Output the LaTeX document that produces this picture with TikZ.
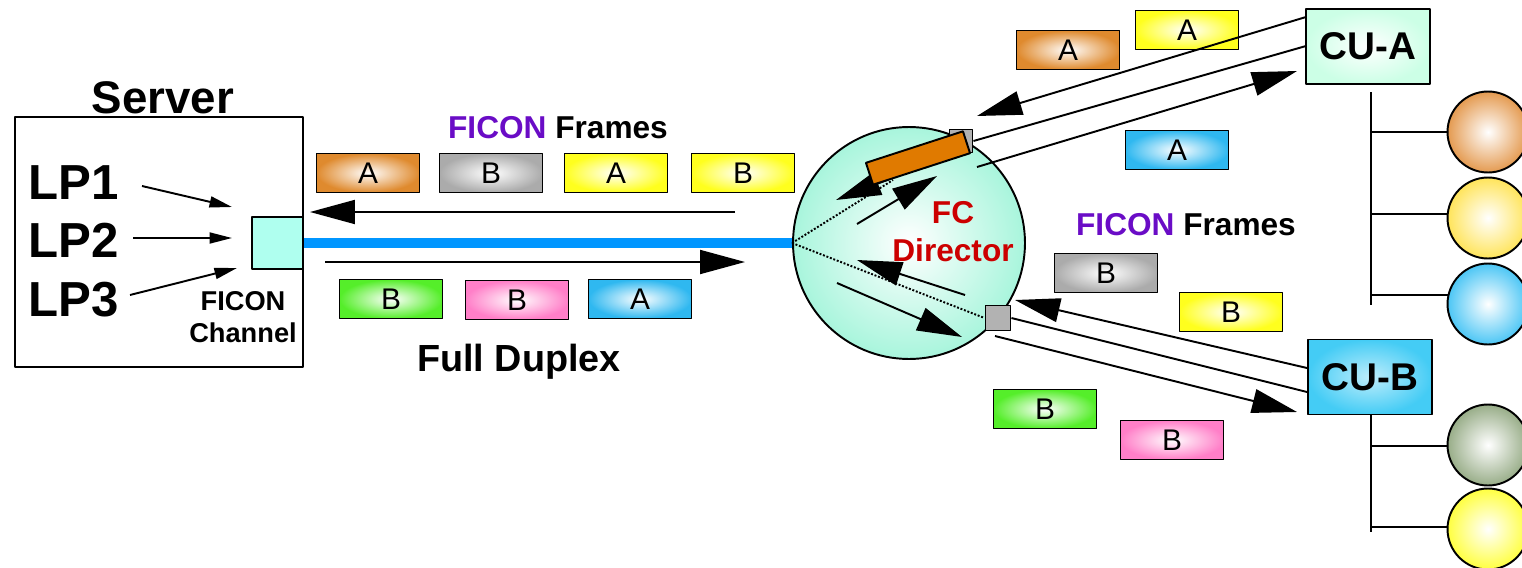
\documentclass[tikz,border=0pt]{standalone}
\usepackage{fontspec}
\setmainfont{Liberation Sans}
\usetikzlibrary{arrows.meta,positioning}
\definecolor{ficonpurple}{HTML}{6A0CC6}
\definecolor{fcred}{HTML}{CC0000}
\definecolor{linkblue}{HTML}{0096FF}
\definecolor{chancyan}{HTML}{AFFFEF}
\definecolor{fcorange}{HTML}{E07A00}
\definecolor{frorange}{HTML}{DF8A2E}
\definecolor{frgray}{HTML}{ABABAB}
\definecolor{fryellow}{HTML}{FFFF1E}
\definecolor{frgreen}{HTML}{55EE2A}
\definecolor{frpink}{HTML}{FF7FC8}
\definecolor{frblue}{HTML}{2FB8F0}
\definecolor{dirmint}{HTML}{A8F5DC}
\definecolor{cuamint}{HTML}{CCFFE6}
\definecolor{cubblue}{HTML}{44CCF5}
\definecolor{devorange}{HTML}{E49A50}
\definecolor{devyellow}{HTML}{FFE45A}
\definecolor{devblue}{HTML}{4CC6F5}
\definecolor{devgreen}{HTML}{98AD88}
\definecolor{devlemon}{HTML}{FFFF40}
\begin{document}
\begin{tikzpicture}[x=0.02cm,y=-0.02cm,line join=round,
  frame/.style={draw,line width=1.1pt,minimum width=2.06cm,minimum height=0.78cm,inner sep=0pt,
    inner color=white,outer color=#1,font=\fontsize{17}{17}\selectfont},
  dev/.style={circle,draw,line width=1.1pt,minimum size=1.62cm,inner sep=0pt,inner color=white,outer color=#1},
  cubox/.style={draw,line width=1.1pt,minimum width=2.48cm,minimum height=1.5cm,inner sep=0pt,
    font=\bfseries\fontsize{22}{22}\selectfont},
  bigarrow/.style={line width=1.1pt,-{Triangle[length=0.9cm,width=0.48cm]}},
  smallarrow/.style={line width=1.1pt,-{Triangle[length=0.45cm,width=0.22cm]}},
  sqport/.style={draw,line width=1.1pt,fill=gray!60,inner sep=0pt,minimum size=#1},
  title/.style={font=\bfseries\fontsize{18}{18}\selectfont}]
\useasboundingbox (0,0) rectangle (1522,568);
\clip (0,0) rectangle (1522,568);

% server side
\node[draw,line width=1.1pt,minimum width=5.76cm,minimum height=5cm] (server) at (159,242) {};
\node[font=\bfseries\fontsize{26}{26}\selectfont,anchor=base] (servname) at (163,113) {Server};
\node[anchor=west,font=\bfseries\fontsize{28}{28}\selectfont] (lp1) at (22,183) {LP1};
\node[anchor=west,font=\bfseries\fontsize{28}{28}\selectfont] (lp2) at (22,240) {LP2};
\node[anchor=west,font=\bfseries\fontsize{28}{28}\selectfont] (lp3) at (22,300) {LP3};
\node[draw,line width=1.1pt,fill=chancyan,minimum width=1.02cm,minimum height=1.04cm] (chan) at (277.5,243) {};
\node[align=center,font=\bfseries\fontsize{15.5}{18.5}\selectfont] (channame) at (243,317) {FICON\\Channel};
\coordinate (p1) at (142,186); \coordinate (q1) at (232,207);
\coordinate (p2) at (133,238); \coordinate (q2) at (232,238);
\coordinate (p3) at (130,295); \coordinate (q3) at (237,268);
\draw[smallarrow] (p1) -- (q1);
\draw[smallarrow] (p2) -- (q2);
\draw[smallarrow] (p3) -- (q3);

% director
\node[circle,draw,line width=1.1pt,minimum size=4.64cm,inner color=white,outer color=dirmint] (dir) at (909,243) {};
\node[align=center,text=fcred,font=\bfseries\fontsize{18}{21.6}\selectfont] (dirname) at (953,232) {FC\\Director};
\draw[line width=5.7pt,linkblue] (chan.east) -- (dir.west);
\coordinate (dotA) at (893,180);
\node[sqport=0.5cm] (portB) at (998,318) {};
\draw[line width=1.1pt,densely dotted] (dir.west) -- (dotA) (dir.west) -- (portB.west);

% link frames
\node[title] (framesL) at (558,128) {\textcolor{ficonpurple}{FICON} Frames};
\node[frame=frorange] (fa1) at (368,173) {A};
\node[frame=frgray]   (fb1) at (491,173) {B};
\node[frame=fryellow] (fa2) at (616,173) {A};
\node[frame=fryellow] (fb2) at (743,173) {B};
\node[frame=frgreen]  (fb3) at (391,299) {B};
\node[frame=frpink]   (fb4) at (517,300) {B};
\node[frame=frblue]   (fa3) at (640,299) {A};
\node[font=\bfseries\fontsize{21.5}{21.5}\selectfont] (duplex) at (519,362) {Full Duplex};
\coordinate (inS) at (735,212); \coordinate (inE) at (310,212);
\coordinate (outS) at (325,262); \coordinate (outE) at (745,262);
\draw[bigarrow] (inS) -- (inE);
\draw[bigarrow] (outS) -- (outE);

% inside the director
\coordinate (r1) at (958,152); \coordinate (r2) at (836,200);
\coordinate (r3) at (857,224); \coordinate (r4) at (937,176);
\coordinate (r5) at (965,295); \coordinate (r6) at (857,260);
\coordinate (r7) at (837,283); \coordinate (r8) at (962,337);
\draw[bigarrow] (r1) -- (r2);
\draw[bigarrow] (r3) -- (r4);
\draw[bigarrow] (r5) -- (r6);
\draw[bigarrow] (r7) -- (r8);
\node[sqport=0.46cm] (portA) at (961,141) {};
\node[draw,line width=1.1pt,fill=fcorange,rotate=18,minimum width=2.04cm,minimum height=0.46cm,inner sep=0pt] (bufA) at (918,158) {};

% control unit A
\node[cubox,inner color=white,outer color=cuamint] (cuA) at (1368,46.5) {CU-A};
\node[frame=frorange] (ra1) at (1068,50) {A};
\node[frame=fryellow] (ra2) at (1187,30) {A};
\node[frame=frblue]   (ra3) at (1177,150) {A};
\coordinate (ca1) at (1306,17); \coordinate (ca2) at (977,116);
\coordinate (ca3) at (1306,46);
\coordinate (ca4) at (977,167); \coordinate (ca5) at (1297,71);
\draw[bigarrow] (ca1) -- (ca2);
\draw[line width=1.1pt] (ca3) -- (portA.east);
\draw[bigarrow] (ca4) -- (ca5);

% control unit B
\node[title] (framesR) at (1186,225) {\textcolor{ficonpurple}{FICON} Frames};
\node[cubox,inner color=cubblue!35,outer color=cubblue] (cuB) at (1370,377) {CU-B};
\node[frame=frgray]   (rb1) at (1106,273) {B};
\node[frame=fryellow] (rb2) at (1231,312) {B};
\node[frame=frgreen]  (rb3) at (1045,409) {B};
\node[frame=frpink]   (rb4) at (1172,440) {B};
\coordinate (cb1) at (1307,368); \coordinate (cb2) at (1015,300);
\coordinate (cb3) at (1307,392);
\coordinate (cb4) at (995,336); \coordinate (cb5) at (1297,412);
\draw[bigarrow] (cb1) -- (cb2);
\draw[line width=1.1pt] (portB.east) -- (cb3);
\draw[bigarrow] (cb4) -- (cb5);

% devices
\draw[line width=1.1pt] (1371,92) -- (1371,305) (1371,132) -- (1453,132) (1371,214) -- (1453,214) (1371,295) -- (1453,295);
\draw[line width=1.1pt] (cuB.south -| 1371,0) -- (1371,532) (1371,446) -- (1453,446) (1371,527) -- (1453,527);
\node[dev=devorange] (d1) at (1488,132) {};
\node[dev=devyellow] (d2) at (1488,218) {};
\node[dev=devblue]   (d3) at (1488,304) {};
\node[dev=devgreen]  (d4) at (1488,445) {};
\node[dev=devlemon]  (d5) at (1488,529) {};
\end{tikzpicture}
\end{document}
